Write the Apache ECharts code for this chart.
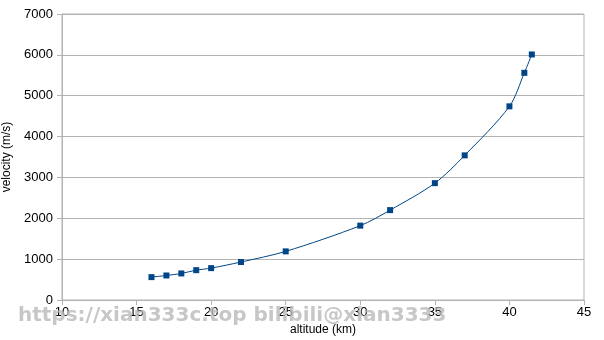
<!DOCTYPE html>
<html><head><meta charset="utf-8">
<script src="https://cdn.jsdelivr.net/npm/echarts@6/dist/echarts.min.js"></script>
<style>html,body{margin:0;padding:0;background:#fff}#c{width:604px;height:340px}</style>
</head><body><div id="c"></div>
<script>
const altitude = [16, 17, 18, 19, 20, 22, 25, 30, 32, 35, 37, 40, 41, 41.5];
const velocity = [560, 600, 650, 730, 780, 930, 1190, 1820, 2200, 2860, 3540, 4740, 5560, 6010];
const xTitle = 'altitude (km)';
const yTitle = 'velocity (m/s)';
const watermark = 'https://xian333c.top bilibili@xian3333';

const data = altitude.map((a, i) => [a, velocity[i]]);
const chart = echarts.init(document.getElementById('c'));
const lab = {color: '#000', fontSize: 13, fontFamily: 'Liberation Sans'};
const axLine = {lineStyle: {color: '#b3b3b3', width: 1}};
chart.setOption({
  animation: false,
  grid: {left: 62, right: 20, top: 14, bottom: 40, containLabel: false, outerBoundsMode: 'none',
    show: true, borderColor: '#b3b3b3', borderWidth: 1},
  xAxis: {type: 'value', min: 10, max: 45, interval: 5,
    name: xTitle, nameLocation: 'middle', nameGap: 24,
    nameTextStyle: {color: '#000', fontSize: 12, fontFamily: 'Liberation Sans'},
    axisLabel: Object.assign({margin: 6}, lab), axisLine: Object.assign({show: true}, axLine),
    axisTick: {show: true, length: 5, lineStyle: {color: '#b3b3b3'}}, splitLine: {show: false}},
  yAxis: {type: 'value', min: 0, max: 7000, interval: 1000,
    name: yTitle, nameLocation: 'middle', nameGap: 40, nameRotate: 90,
    nameTextStyle: {color: '#000', fontSize: 12, fontFamily: 'Liberation Sans'},
    axisLabel: Object.assign({margin: 9, formatter: v => String(v)}, lab), axisLine: Object.assign({show: true}, axLine),
    axisTick: {show: true, length: 5, lineStyle: {color: '#b3b3b3'}},
    splitLine: {show: true, lineStyle: {color: '#b3b3b3', width: 1}}},
  series: [{type: 'line', data: data, smooth: 0.3, symbol: 'rect', symbolSize: 6,
    itemStyle: {color: '#004586'}, lineStyle: {color: '#004586', width: 1}}],
  graphic: [{type: 'text', left: 18, top: 306, z: 100,
    style: {text: watermark, fill: 'rgba(185,185,185,0.8)', font: 'bold 20px "DejaVu Sans"'}}]
});
</script></body></html>
